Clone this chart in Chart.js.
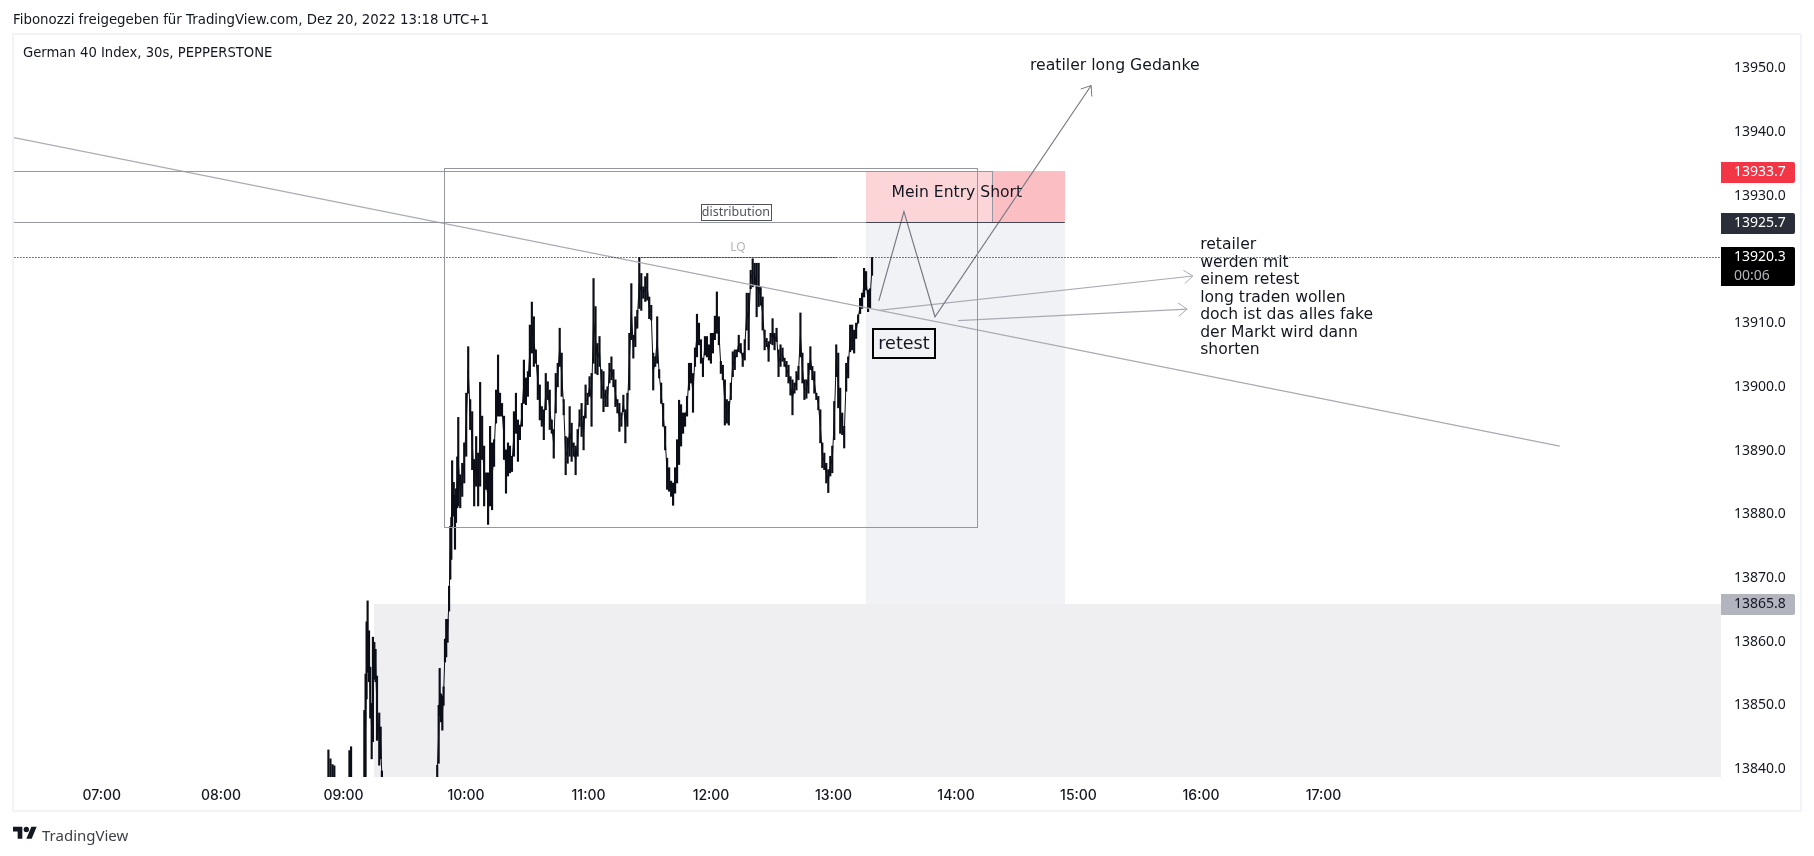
<!DOCTYPE html>
<html>
<head>
<meta charset="utf-8">
<title>German 40 Index</title>
<script src="https://cdn.jsdelivr.net/npm/chart.js@4/dist/chart.umd.min.js"></script>
<style>
  html, body { margin: 0; padding: 0; background: #fff; width: 1814px; height: 856px; overflow: hidden; }
  #wrap { position: relative; width: 1814px; height: 856px; }
  canvas { position: absolute; left: 0; top: 0; }
  .txt { position: absolute; white-space: nowrap; color: #131722; font-family: "DejaVu Sans", sans-serif; }
  #shared { left: 13px; top: 10px; font-size: 13.35px; line-height: 20px; }
  #symbol { left: 23px; top: 43px; font-size: 13.2px; line-height: 20px; }
  #brand { left: 42px; top: 825px; font-size: 15px; line-height: 20px; color: #3c3f47; font-family: "Noto Sans", sans-serif; }
  #logo { position: absolute; left: 13px; top: 824px; }
</style>
</head>
<body>
<div id="wrap">
  <canvas id="tvChart" width="1814" height="856"></canvas>
  <div class="txt" id="shared">Fibonozzi freigegeben für TradingView.com, Dez 20, 2022 13:18 UTC+1</div>
  <div class="txt" id="symbol">German 40 Index, 30s, PEPPERSTONE</div>
  <svg id="logo" width="24" height="19" viewBox="0 0 36 28"><path fill="#131722" d="M14 22H7V11H0V4h14v18zM28 22h-8l7.5-18h8L28 22z"/><circle fill="#131722" cx="20" cy="8" r="4"/></svg>
  <div class="txt" id="brand">TradingView</div>
</div>
<script>
// axis
const timeTicks = [480, 540, 600, 660, 720, 780, 840, 900, 960, 1020];
const timeLabels = ['08:00', '09:00', '10:00', '11:00', '12:00', '13:00', '14:00', '15:00', '16:00', '17:00'];
const earlyTickTime = 421.6; // the session gap puts the 07:00 label a little closer to 08:00
const earlyTickLabel = '07:00';
const priceTicks = [13840, 13850, 13860, 13870, 13880, 13890, 13900, 13910, 13920, 13930, 13940, 13950];

// price bars before the range (minutes since midnight)
const earlyTimes = [532.6, 533.6, 534.6, 535.5, 542.9, 543.7, 550.2, 550.8, 551.3, 551.8, 552.5, 553.1, 553.8, 554.4, 555.1, 555.7, 556.4, 557.5, 558.2, 558.8,
  585.9, 586.6, 587.1, 587.7, 588.4, 589, 589.7, 590.3, 591, 591.7, 592.3, 592.8, 593.2, 594, 594.6, 595.1, 595.7];
const earlyHighs = [13843, 13841.6, 13840.7, 13840.5, 13842.9, 13843.5, 13849.2, 13854.9, 13863.1, 13866.4, 13861.7, 13856, 13850.3, 13860.7, 13859.9, 13858.8, 13854.6, 13848.8, 13846.6, 13839.7,
  13840.6, 13850, 13855.8, 13851.8, 13851.5, 13852.9, 13860.4, 13863.5, 13863.5, 13868.7, 13878.1, 13879.5, 13888.4, 13885, 13883, 13884, 13889];
const earlyLows = [13838, 13838, 13838, 13838, 13838, 13838, 13838, 13838, 13851, 13855.2, 13853.7, 13848, 13841.6, 13844.3, 13854.1, 13853.7, 13844.5, 13840.6, 13841.6, 13838,
  13838, 13840.9, 13848.4, 13847.4, 13846.1, 13850, 13856.8, 13857.6, 13859.9, 13864.8, 13869.8, 13872.9, 13878.1, 13879.7, 13874.5, 13878.7, 13881];
const earlyBreak = 20; // bars up to here are the 09:00 spike, the rest the 10:00 rally

// price bars inside the range, one every mainStep minutes from mainStart
const mainStart = 596.2;
const mainStep = 0.9744;
const mainHighs = [13895.2, 13886.2, 13888, 13891.2, 13899, 13906.3, 13898, 13896.1, 13888.6, 13892.2, 13889.6, 13900.7, 13895.4, 13890.7, 13886.5, 13886.5, 13893.8, 13891.2, 13891.7, 13899.5,
  13905, 13899, 13897.4, 13895.4, 13890.1, 13891.2, 13890.7, 13889.1, 13896.1, 13899, 13894.8, 13894, 13897.4, 13904.2, 13901.4, 13902.4, 13909.7, 13913.3, 13911, 13905.8,
  13903.4, 13900.3, 13896.9, 13896.4, 13902.1, 13900.8, 13899.5, 13894.8, 13893.3, 13902.1, 13903.7, 13909.2, 13905.3, 13898, 13892.2, 13892, 13896.9, 13894.3, 13891.2, 13890.7,
  13893.3, 13896.4, 13897.4, 13895.4, 13900.3, 13899, 13901.6, 13902.1, 13917, 13912.6, 13906.8, 13907.9, 13902.7, 13902.4, 13899.5, 13900, 13903.7, 13904.7, 13902.7, 13901.1,
  13898, 13897.4, 13895.9, 13898.7, 13896.4, 13899, 13908.4, 13916.2, 13908.1, 13911, 13912, 13920.3, 13917.8, 13915.7, 13917.3, 13917.8, 13914.1, 13912.8, 13905.3, 13904.7,
  13911, 13902.7, 13900.6, 13897.4, 13893.8, 13888.8, 13887.3, 13885.2, 13884.9, 13887.3, 13891.7, 13897.9, 13897.2, 13895.9, 13895.9, 13898.5, 13903.7, 13903.7, 13902.1, 13906.1,
  13911.4, 13910, 13907.4, 13904.5, 13907.9, 13907.9, 13906.6, 13908.4, 13908.4, 13911.1, 13914.9, 13911, 13904, 13903.4, 13901.1, 13898, 13897.7, 13900.6, 13905.5, 13905.8,
  13905.8, 13908.1, 13906.8, 13905.3, 13907.4, 13914.7, 13914.7, 13918.3, 13920.1, 13919.4, 13919.4, 13919.4, 13915.7, 13914.1, 13908.9, 13907.6, 13907.1, 13908.4, 13910.7, 13908.4,
  13909.2, 13905.8, 13906.6, 13906.1, 13904.5, 13904, 13903.4, 13901.6, 13901.1, 13900.6, 13902.4, 13903.2, 13911.6, 13905.3, 13901.1, 13901.1, 13903.7, 13906.3, 13903.2, 13902.4,
  13899, 13898.5, 13896.4, 13891.2, 13889.6, 13888, 13887, 13889.1, 13890.7, 13897.7, 13906.6, 13905.3, 13899.8, 13895.9, 13893.8, 13903.7, 13904.7, 13909.7, 13909.7, 13908.9,
  13910, 13911.3, 13913.9, 13914.7, 13918.6, 13918.1, 13915.2, 13915.4, 13920.3];
const mainLows = [13881.3, 13881, 13882.8, 13884.9, 13889.1, 13899, 13893.3, 13887, 13881.3, 13884.4, 13881.3, 13884.4, 13888.6, 13881.3, 13883.9, 13878.4, 13881.3, 13880.7, 13887.5, 13894.3,
  13895.4, 13895.4, 13895.4, 13888.6, 13883.3, 13886, 13886.5, 13886.7, 13889.1, 13892.7, 13888.3, 13891.7, 13893.8, 13897.4, 13897.2, 13898.5, 13901.6, 13905.3, 13903.2, 13903.7,
  13898, 13894.8, 13893.8, 13891.7, 13896.4, 13898, 13893.3, 13892.7, 13888.8, 13895.9, 13900, 13903.2, 13898.5, 13895.6, 13886.2, 13888, 13889.1, 13888.3, 13889.1, 13886.2,
  13889.1, 13893.8, 13892.2, 13890.1, 13895.1, 13897.2, 13898.5, 13893.8, 13903.7, 13902.1, 13901.9, 13903.2, 13898.2, 13896.1, 13896.9, 13896.9, 13900.6, 13901.1, 13900, 13896.9,
  13895.9, 13893, 13893.8, 13896.1, 13891.2, 13893.8, 13899.5, 13907.4, 13904.5, 13906.3, 13909.2, 13912.3, 13912, 13913.9, 13913.4, 13913.6, 13910.7, 13910.5, 13899.5, 13903.2,
  13903.7, 13901.4, 13897.4, 13893.8, 13890.1, 13883.9, 13883.6, 13882.8, 13881.4, 13883.3, 13884.9, 13887.8, 13890.7, 13892.7, 13893.8, 13895.4, 13899.5, 13900.6, 13896, 13903.2,
  13904.7, 13906.6, 13903.7, 13901.6, 13905, 13904.7, 13904.2, 13903.7, 13905.3, 13907.4, 13908.4, 13906.6, 13902.1, 13901.1, 13894, 13894.3, 13894, 13898, 13901.6, 13902.7,
  13904.7, 13905.5, 13905.3, 13903.2, 13904.2, 13908.9, 13905.8, 13915.4, 13915.7, 13916, 13911, 13912.6, 13912.8, 13908.9, 13905.8, 13906.3, 13904, 13906.8, 13906.6, 13905.8,
  13907.1, 13901.6, 13903.2, 13904, 13903.2, 13901.6, 13900.6, 13898.7, 13895.6, 13899, 13899.5, 13901.1, 13904.7, 13900.6, 13898, 13898.2, 13899, 13902.7, 13901.1, 13899,
  13898, 13896.4, 13891.2, 13887.3, 13887, 13884.9, 13883.4, 13886, 13886.5, 13891.7, 13901.6, 13896.7, 13892.7, 13892.5, 13890.4, 13899.3, 13901.4, 13905.5, 13905.8, 13905.3,
  13907.6, 13910, 13911.5, 13912.3, 13914.1, 13915.2, 13911.8, 13912.3, 13917.5];

// drawings, in chart time and price
const lastPrice = 13920.3;
const stopPrice = 13933.7;
const entryPrice = 13925.7;
const targetPrice = 13865.8;
const trendTimes = [377.6, 1135.7];
const trendPrices = [13939.2, 13890.7];
const lqTimes = [685.3, 781.6];
const zigzagTimes = [802.2, 814.5, 829.7, 906.2];
const zigzagPrices = [13913.5, 13927.5, 13911, 13947.3];
const arrowOneTimes = [802.2, 956];
const arrowOnePrices = [13912, 13917.4];
const arrowTwoTimes = [841, 953.2];
const arrowTwoPrices = [13910.4, 13912.2];
const rangeBox = [589.3, 850.6, 13934.2, 13877.8];
const distributionBox = [370, 857.9, stopPrice, entryPrice];
const positionTimes = [796, 893.3];
const supportBox = [554.9, 1214.7, targetPrice, 13838];
const retailerLines = ['retailer', 'werden mit', 'einem retest', 'long traden wollen', 'doch ist das alles fake', 'der Markt wird dann', 'shorten'];

const FONT = '"Noto Sans", sans-serif';
const NOTE_FONT = '"DejaVu Sans", sans-serif';
const zip = (xs, ys) => xs.map((x, i) => ({ x, y: ys[i] }));

const barData = earlyTimes.map((t, i) => ({ x: t, y: [earlyLows[i], earlyHighs[i]] }))
  .concat(mainHighs.map((h, i) => ({ x: mainStart + i * mainStep, y: [mainLows[i], h] })));

// thin path through the bars so neighbouring ones read as one continuous trace
const traceOf = (bars) => bars.map((b) => ({ x: b.x, y: (b.y[0] + b.y[1]) / 2 }));
const spikeTrace = traceOf(barData.slice(6, earlyBreak));
const rallyTrace = traceOf(barData.slice(earlyBreak));

const lineSet = (data, color, extra) => Object.assign({
  type: 'line', data, borderColor: color, borderWidth: 1, pointRadius: 0, tension: 0, fill: false, order: 1
}, extra);

// zones, boxes, arrow heads, labels and price tags are placed with the chart scales
const drawings = {
  id: 'drawings',
  beforeDraw(chart) {
    const { ctx } = chart;
    ctx.save();
    ctx.strokeStyle = '#f0f3fa';
    ctx.lineWidth = 2;
    ctx.strokeRect(13, 34, 1788, 777);
    ctx.restore();
  },
  beforeDatasetsDraw(chart) {
    const { ctx, scales: { x, y } } = chart;
    const row = (p) => Math.floor(y.getPixelForValue(p) - 0.3);
    const fillBox = (t0, t1, p0, p1, color) => {
      const left = Math.round(x.getPixelForValue(t0));
      ctx.fillStyle = color;
      ctx.fillRect(left, row(p0), Math.round(x.getPixelForValue(t1)) - left, row(p1) - row(p0));
    };
    ctx.save();
    ctx.beginPath();
    ctx.rect(chart.chartArea.left, chart.chartArea.top, chart.chartArea.width, chart.chartArea.height);
    ctx.clip();
    fillBox(supportBox[0], supportBox[1], supportBox[2], supportBox[3], '#efeff2');
    fillBox(positionTimes[0], positionTimes[1], entryPrice, targetPrice, '#f1f2f5');
    fillBox(positionTimes[0], positionTimes[1], stopPrice, entryPrice, '#fbbfc3');
    fillBox(distributionBox[0], distributionBox[1], distributionBox[2], distributionBox[3], 'rgba(255,255,255,0.35)');
    ctx.restore();
  },
  afterDatasetsDraw(chart) {
    const { ctx, scales: { x, y } } = chart;
    const row = (p) => Math.floor(y.getPixelForValue(p) - 0.3);
    const strokeBox = (b) => {
      ctx.strokeStyle = '#9598a1';
      ctx.lineWidth = 1;
      ctx.strokeRect(Math.round(x.getPixelForValue(b[0])) + 0.5, row(b[2]) + 0.5,
        Math.round(x.getPixelForValue(b[1]) - x.getPixelForValue(b[0])), row(b[3]) - row(b[2]));
    };
    const arrowHead = (times, prices, color) => {
      const n = times.length - 1;
      const ex = x.getPixelForValue(times[n]), ey = y.getPixelForValue(prices[n]);
      const a = Math.atan2(ey - y.getPixelForValue(prices[n - 1]), ex - x.getPixelForValue(times[n - 1]));
      ctx.strokeStyle = color;
      ctx.lineWidth = 1;
      ctx.beginPath();
      ctx.moveTo(ex - 11 * Math.cos(a - 0.65), ey - 11 * Math.sin(a - 0.65));
      ctx.lineTo(ex, ey);
      ctx.lineTo(ex - 11 * Math.cos(a + 0.65), ey - 11 * Math.sin(a + 0.65));
      ctx.stroke();
    };
    const label = (text, t, p, size, align, color, family) => {
      ctx.font = `${size}px ${family || NOTE_FONT}`;
      ctx.fillStyle = color || '#131722';
      ctx.textAlign = align;
      ctx.textBaseline = 'middle';
      ctx.fillText(text, x.getPixelForValue(t), y.getPixelForValue(p));
    };

    ctx.save();
    ctx.beginPath();
    ctx.rect(chart.chartArea.left, chart.chartArea.top, chart.chartArea.width, chart.chartArea.height);
    ctx.clip();
    strokeBox(rangeBox);
    strokeBox(distributionBox);

    // entry line of the position tool
    ctx.strokeStyle = '#434651';
    ctx.beginPath();
    ctx.moveTo(x.getPixelForValue(positionTimes[0]), row(entryPrice) + 0.5);
    ctx.lineTo(x.getPixelForValue(positionTimes[1]), row(entryPrice) + 0.5);
    ctx.stroke();

    arrowHead(zigzagTimes, zigzagPrices, '#787b86');
    arrowHead(arrowOneTimes, arrowOnePrices, '#a8abb4');
    arrowHead(arrowTwoTimes, arrowTwoPrices, '#a8abb4');

    label('Mein Entry Short', 840.4, 13930.5, 15.6, 'center');
    label('reatiler long Gedanke', 876.2, 13950.3, 15.7, 'left');
    label('LQ', 733.2, 13921.9, 12, 'center', '#b2b5be', FONT);
    retailerLines.forEach((line, i) => label(line, 959.6, 13922.2 - i * 2.74, 15.6, 'left'));

    // distribution tag
    const dx = x.getPixelForValue(732.2), dy = row(entryPrice) - 10;
    ctx.fillStyle = '#fff';
    ctx.fillRect(dx - 35, dy - 8, 70, 16);
    ctx.strokeStyle = '#50535e';
    ctx.strokeRect(Math.round(dx - 35) + 0.5, Math.round(dy - 8) + 0.5, 70, 16);
    ctx.font = `12.5px ${FONT}`;
    ctx.fillStyle = '#50535e';
    ctx.textAlign = 'center';
    ctx.fillText('distribution', dx, dy);

    // retest tag
    const rx = Math.round(x.getPixelForValue(814.5)), ry = Math.round(y.getPixelForValue(13906.8));
    ctx.strokeStyle = '#000';
    ctx.lineWidth = 2;
    ctx.strokeRect(rx - 31, ry - 15, 62, 29);
    label('retest', 814.5, 13906.7, 17.6, 'center');
    ctx.restore();
  },
  afterDraw(chart) {
    const { ctx, scales: { y } } = chart;
    const tag = (value, color, textColor, extra) => {
      const py = Math.floor(y.getPixelForValue(value));
      const top = py - 10, h = extra ? 39 : 21;
      ctx.fillStyle = color;
      ctx.beginPath();
      ctx.roundRect(1721, top, 74, h, [0, 2, 2, 0]);
      ctx.fill();
      ctx.font = `14px ${FONT}`;
      ctx.textAlign = 'left';
      ctx.textBaseline = 'middle';
      ctx.fillStyle = textColor;
      ctx.fillText(value.toFixed(1), 1734, py + 0.5);
      if (extra) {
        ctx.fillStyle = '#b2b5be';
        ctx.fillText(extra, 1734, py + 19);
      }
    };
    ctx.save();
    tag(stopPrice, '#f23645', '#fff');
    tag(entryPrice, '#2a2e39', '#fff');
    tag(targetPrice, '#b2b5be', '#131722');
    tag(lastPrice, '#000', '#fff', '00:06');
    ctx.restore();
  }
};

new Chart(document.getElementById('tvChart'), {
  type: 'bar',
  data: {
    datasets: [
      lineSet(zip([370, 1220], [lastPrice, lastPrice]), '#000', { borderDash: [1, 2] }),
      lineSet(zip(lqTimes, [lastPrice, lastPrice]), '#9598a1'),
      lineSet(zip(trendTimes, trendPrices), '#a8abb4', { borderWidth: 1.2 }),
      lineSet(zip(zigzagTimes, zigzagPrices), '#787b86', { borderWidth: 1.2 }),
      lineSet(zip(arrowOneTimes, arrowOnePrices), '#a8abb4', { borderWidth: 1.2 }),
      lineSet(zip(arrowTwoTimes, arrowTwoPrices), '#a8abb4', { borderWidth: 1.2 }),
      lineSet(spikeTrace, '#0b0e17', { order: 2 }),
      lineSet(rallyTrace, '#0b0e17', { order: 2 }),
      { type: 'bar', data: barData, backgroundColor: '#0b0e17', borderWidth: 0, barThickness: 1.5, grouped: false, order: 2 }
    ]
  },
  options: {
    responsive: false,
    animation: false,
    devicePixelRatio: 1,
    layout: { padding: { left: 14, right: 14, top: 35, bottom: 45 } },
    plugins: { legend: { display: false }, tooltip: { enabled: false }, title: { display: false } },
    events: [],
    scales: {
      x: {
        type: 'linear',
        offset: false,
        min: 378.6,
        max: 1214.7,
        grid: { display: false, drawTicks: false },
        border: { display: false },
        afterBuildTicks: (axis) => { axis.ticks = [earlyTickTime].concat(timeTicks).map((value) => ({ value })); },
        afterFit: (axis) => { axis.height = 34; },
        ticks: {
          autoSkip: false,
          maxRotation: 0,
          padding: 10,
          color: '#131722',
          font: { family: 'Inter', size: 14, weight: '500' },
          callback: (value) => (value === earlyTickTime ? earlyTickLabel : timeLabels[timeTicks.indexOf(value)])
        }
      },
      y: {
        position: 'right',
        min: 13838.75,
        max: 13955.23,
        grid: { display: false, drawTicks: false },
        border: { display: false },
        afterBuildTicks: (axis) => { axis.ticks = priceTicks.map((value) => ({ value })); },
        afterFit: (axis) => { axis.width = 79; },
        ticks: {
          autoSkip: false,
          padding: 13,
          color: '#131722',
          font: { family: FONT, size: 14 },
          callback: (value) => value.toFixed(1)
        }
      }
    }
  },
  plugins: [drawings]
});
</script>
</body>
</html>
